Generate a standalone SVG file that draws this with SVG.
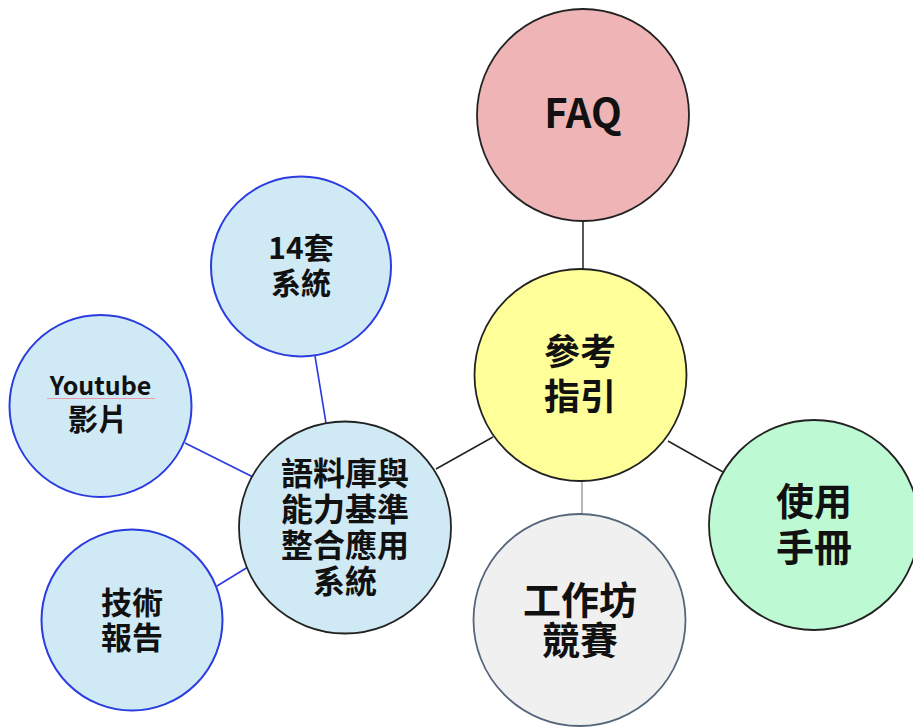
<svg xmlns="http://www.w3.org/2000/svg" width="913" height="727" viewBox="0 0 913 727">
<style>
.t{font-family:"Noto Sans CJK TC","Noto Sans",sans-serif;font-weight:bold;fill:#111;text-anchor:middle}
.lb{fill:#cfe9f5}
.bs{stroke:#2a3be0;stroke-width:2}
.ks{stroke:#222;stroke-width:1.8}
</style>
<rect width="913" height="727" fill="#fff"/>
<g id="connectors" fill="none">
<line x1="583" y1="221" x2="583" y2="269" stroke="#222" stroke-width="1.5"/>
<line x1="582" y1="481" x2="582" y2="514" stroke="#888" stroke-width="1.2"/>
<line x1="668" y1="441" x2="723" y2="472" stroke="#222" stroke-width="1.5"/>
<line x1="436" y1="469" x2="493" y2="437" stroke="#222" stroke-width="1.5"/>
<line x1="315" y1="356" x2="326" y2="423" stroke="#2a3be0" stroke-width="1.6"/>
<line x1="185" y1="443" x2="253" y2="477" stroke="#2a3be0" stroke-width="1.6"/>
<line x1="217" y1="586" x2="248" y2="567" stroke="#2a3be0" stroke-width="1.6"/>
</g>
<g id="faq">
<circle cx="583" cy="115" r="106" fill="#efb5b6" class="ks"/>
<text class="t" x="583" y="128" font-size="40">FAQ</text>
</g>
<g id="guide">
<circle cx="580.5" cy="375" r="106" fill="#ffff99" class="ks"/>
<text class="t" x="580" y="365" font-size="36">參考</text>
<text class="t" x="580" y="410" font-size="36">指引</text>
</g>
<g id="manual">
<circle cx="814" cy="525" r="105" fill="#bdfad4" class="ks"/>
<text class="t" x="814" y="515" font-size="38">使用</text>
<text class="t" x="814" y="561" font-size="38">手冊</text>
</g>
<g id="workshop">
<circle cx="579.5" cy="620" r="106" fill="#f0f0f0" stroke="#55657a" stroke-width="1.8"/>
<text class="t" x="580" y="614" font-size="38">工作坊</text>
<text class="t" x="580" y="654" font-size="38">競賽</text>
</g>
<g id="central">
<circle cx="345" cy="527.5" r="106" class="lb ks"/>
<text class="t" x="345" y="485" font-size="32">語料庫與</text>
<text class="t" x="345" y="521" font-size="32">能力基準</text>
<text class="t" x="345" y="557" font-size="32">整合應用</text>
<text class="t" x="345" y="593" font-size="32">系統</text>
</g>
<g id="systems14">
<circle cx="301" cy="266.5" r="90" class="lb bs"/>
<text class="t" x="301" y="259" font-size="30">14套</text>
<text class="t" x="301" y="294" font-size="30">系統</text>
</g>
<g id="youtube">
<circle cx="100.5" cy="406" r="91" class="lb bs"/>
<text class="t" x="100.5" y="395" font-size="25">Youtube</text>
<line x1="47" y1="398.5" x2="155" y2="398.5" stroke="#e89aa8" stroke-width="1.2"/>
<text class="t" x="98" y="429.5" font-size="30">影片</text>
</g>
<g id="report">
<circle cx="132" cy="620" r="90.5" class="lb bs"/>
<text class="t" x="132" y="614" font-size="31">技術</text>
<text class="t" x="132" y="649" font-size="31">報告</text>
</g>
</svg>
